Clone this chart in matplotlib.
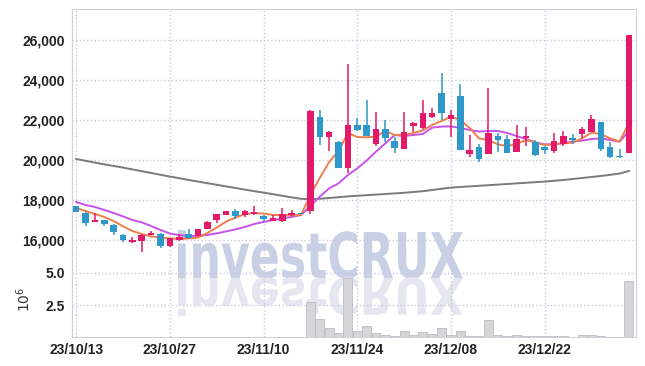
import numpy as np
import matplotlib
matplotlib.use("Agg")
import matplotlib.pyplot as plt
from matplotlib.textpath import TextPath
from matplotlib.patches import PathPatch
from matplotlib.font_manager import FontProperties
from matplotlib.transforms import Affine2D

# --- данные ---
opens = [17700, 17350, 16900, 17000, 16770, 16260, 15880, 15950, 16260, 16320,
         15700, 15990, 16280, 16220, 16570, 17000, 17270, 17460, 17230, 17290,
         17220, 16970, 16970, 17230, 17330, 17470, 22150, 21130, 20880, 19620,
         21750, 21750, 20800, 21550, 20950, 20550, 21720, 21580, 22130, 23330,
         22050, 23200, 20300, 20670, 20300, 21220, 21050, 20420, 21120, 20920,
         20670, 20450, 20780, 21120, 21320, 21420, 21880, 20650, 20200, 20370]
highs = [17720, 17400, 17350, 17020, 16790, 16300, 16150, 16290, 16430, 16330,
         16100, 16280, 16530, 16550, 16940, 17320, 17470, 17530, 17480, 17700,
         17230, 17250, 17620, 17500, 17360, 22500, 22500, 21450, 20950, 24780,
         22080, 23000, 22420, 22000, 21170, 22420, 21900, 23000, 22580, 24330,
         22500, 23800, 21250, 20800, 23580, 21350, 21250, 21750, 21630, 21000,
         20700, 21330, 21450, 21280, 21670, 22250, 21900, 20920, 20530, 26250]
lows = [17400, 16700, 16880, 16700, 16270, 15900, 15860, 15420, 16240, 15620,
        15670, 15970, 16050, 16200, 16550, 16830, 17250, 17030, 17150, 17270,
        16920, 16950, 16920, 17220, 17280, 17300, 20750, 20450, 19580, 19330,
        21450, 21200, 20720, 20920, 20330, 20530, 21420, 21550, 22100, 22000,
        21170, 20480, 20170, 19920, 20280, 20420, 20350, 20400, 20720, 20200,
        20280, 20370, 20700, 20780, 21080, 21400, 20450, 20080, 20120, 20350]
closes = [17400, 16850, 17000, 16780, 16380, 15980, 16000, 16270, 16330, 15680,
          16080, 16170, 16120, 16530, 16920, 17300, 17450, 17200, 17460, 17400,
          17050, 17080, 17280, 17350, 17300, 22450, 21170, 21420, 19600, 21750,
          21500, 21220, 21550, 21080, 20620, 21420, 21870, 22370, 22370, 22350,
          22250, 20500, 20500, 20030, 21370, 21000, 20370, 21050, 21220, 20250,
          20500, 20950, 21200, 21000, 21550, 22050, 20550, 20150, 20170, 26250]

ma5 = [17600, 17450, 17300, 17150, 16950, 16680, 16450, 16300, 16180, 16120,
       16080, 16050, 16080, 16120, 16350, 16620, 16920, 17120, 17290, 17350,
       17320, 17250, 17250, 17230, 17250, 18250, 19100, 19900, 20450, 21350,
       21150, 21130, 21170, 21450, 21250, 21250, 21350, 21480, 21750, 21950,
       22170, 22000, 21600, 21080, 21000, 20780, 20700, 20800, 21000, 20880,
       20750, 20800, 20830, 20870, 21080, 21370, 21300, 21080, 20920, 21850]
ma20 = [17900, 17750, 17650, 17500, 17350, 17180, 17000, 16880, 16700, 16500,
        16320, 16250, 16200, 16200, 16250, 16330, 16430, 16530, 16650, 16800,
        16900, 17000, 17080, 17150, 17250, 17700, 18170, 18580, 18830, 19250,
        19580, 19970, 20420, 20830, 21250, 21200, 21250, 21300, 21620, 21670,
        21680, 21600, 21500, 21420, 21450, 21450, 21350, 21200, 21050, 20880,
        20780, 20780, 20850, 20920, 20970, 21050, 21080, 21000, 20920, 21450]
ma120 = [20050, 19960, 19870, 19780, 19700, 19620, 19530, 19440, 19350, 19260,
         19170, 19090, 19000, 18920, 18840, 18760, 18680, 18600, 18520, 18440,
         18370, 18290, 18210, 18130, 18060, 18040, 18060, 18100, 18140, 18180,
         18210, 18240, 18270, 18300, 18330, 18360, 18400, 18440, 18500, 18560,
         18620, 18650, 18680, 18710, 18740, 18770, 18800, 18830, 18860, 18890,
         18920, 18960, 19000, 19050, 19100, 19150, 19200, 19260, 19320, 19450]

# объём, в миллионах
volume = [0.01] * 25 + [
    2.76, 1.38, 0.68, 0.34, 4.59, 0.49, 0.86, 0.34, 0.16, 0.08,
    0.49, 0.13, 0.37, 0.23, 0.73, 0.13, 0.49, 0.05, 0.05, 1.30,
    0.16, 0.05, 0.12, 0.08, 0.06, 0.05, 0.05, 0.05, 0.04, 0.12,
    0.12, 0.08, 0.03, 0.03, 4.35]

tick_pos = [0, 10, 20, 30, 40, 50]
tick_labels = ["23/10/13", "23/10/27", "23/11/10", "23/11/24", "23/12/08", "23/12/22"]

# --- оформление ---
UP = "#e3196a"
DOWN = "#2f97c9"
GRID = "#c9cadb"
SPINE = "#d0d0d8"
LABEL_FONT = ["Liberation Sans", "DejaVu Sans"]

fig = plt.figure(figsize=(6.45, 3.66), dpi=100)
ax = fig.add_axes([0.1116, 0.2842, 0.8744, 0.6912])
axv = fig.add_axes([0.1116, 0.0792, 0.8744, 0.2050], sharex=ax)
for a in (ax, axv):
    a.set_facecolor("none")

# --- водяной знак investCRUX с отражением ---
fp = FontProperties(family="DejaVu Sans", weight="bold")
tp = TextPath((0, 0), "investCRUX", size=1, prop=fp)
ext = tp.get_extents()
W, H = 645.0, 366.0
x0_px, x1_px, base_px, cap_px = 178, 463, 278, 46
sx = (x1_px - x0_px) / ext.width
sy = cap_px / 0.73
tx = x0_px - ext.x0 * sx
ty = H - base_px
main_tr = Affine2D().scale(sx, sy).translate(tx, ty).scale(1 / W, 1 / H) + fig.transFigure
refl_tr = Affine2D().scale(sx, -sy * 0.8).translate(tx, ty).scale(1 / W, 1 / H) + fig.transFigure
fig.add_artist(PathPatch(tp, facecolor="#c9d0e6", edgecolor="none", transform=main_tr, zorder=-5))
fig.add_artist(PathPatch(tp, facecolor="#e4e7f0", edgecolor="none", transform=refl_tr, zorder=-5))

x = np.arange(len(opens))
o = np.array(opens)
c = np.array(closes)
colors = [UP if cc >= oo else DOWN for oo, cc in zip(o, c)]

# скользящие средние
ax.plot(x, ma120, color="#7a7a7a", lw=1.4, zorder=2)
ax.plot(x, ma20, color="#c952ea", lw=1.4, zorder=2)
ax.plot(x, ma5, color="#ee7e4c", lw=1.4, zorder=2)

# свечи
ax.vlines(x, lows, highs, colors=colors, lw=1.1, zorder=3)
body = np.maximum(np.abs(c - o), 40)
ax.bar(x, body, bottom=np.minimum(o, c), width=0.7, color=colors, zorder=4)

ax.set_ylim(14900, 27550)
ax.set_yticks(range(16000, 26001, 2000))
ax.set_yticklabels([f"{v:,}" for v in range(16000, 26001, 2000)])
ax.set_xlim(-0.45, 59.75)
ax.set_xticks(tick_pos)
ax.tick_params(axis="x", labelbottom=False, length=0)
ax.tick_params(axis="y", length=0, pad=5, labelsize=10, labelcolor="#222222")
ax.grid(True, color=GRID, ls=":", lw=1)
ax.spines["bottom"].set_visible(False)
for s in ("top", "left", "right"):
    ax.spines[s].set_color(SPINE)

# объём
axv.bar(x, volume, width=0.95, color="#d6d6d9", edgecolor="#bdbdc2", lw=0.6, zorder=3)
axv.set_ylim(0, 5.86)
axv.set_yticks([2.5, 5.0])
axv.set_yticklabels(["2.5", "5.0"])
axv.set_xticks(tick_pos)
axv.set_xticklabels(tick_labels)
axv.tick_params(length=0, labelsize=10, labelcolor="#222222")
axv.tick_params(axis="y", pad=5)
axv.tick_params(axis="x", pad=4)
axv.grid(True, color=GRID, ls=":", lw=1)
axv.spines["top"].set_visible(False)
for s in ("bottom", "left", "right"):
    axv.spines[s].set_color(SPINE)
axv.set_ylabel(r"$10^6$", fontsize=10, family="serif", color="#333333")
axv.yaxis.set_label_coords(-0.069, 0.5)

for lab in ax.get_yticklabels() + axv.get_yticklabels() + axv.get_xticklabels():
    lab.set_family(LABEL_FONT)
    lab.set_fontweight("bold")

fig.savefig("out.png", dpi=100)
